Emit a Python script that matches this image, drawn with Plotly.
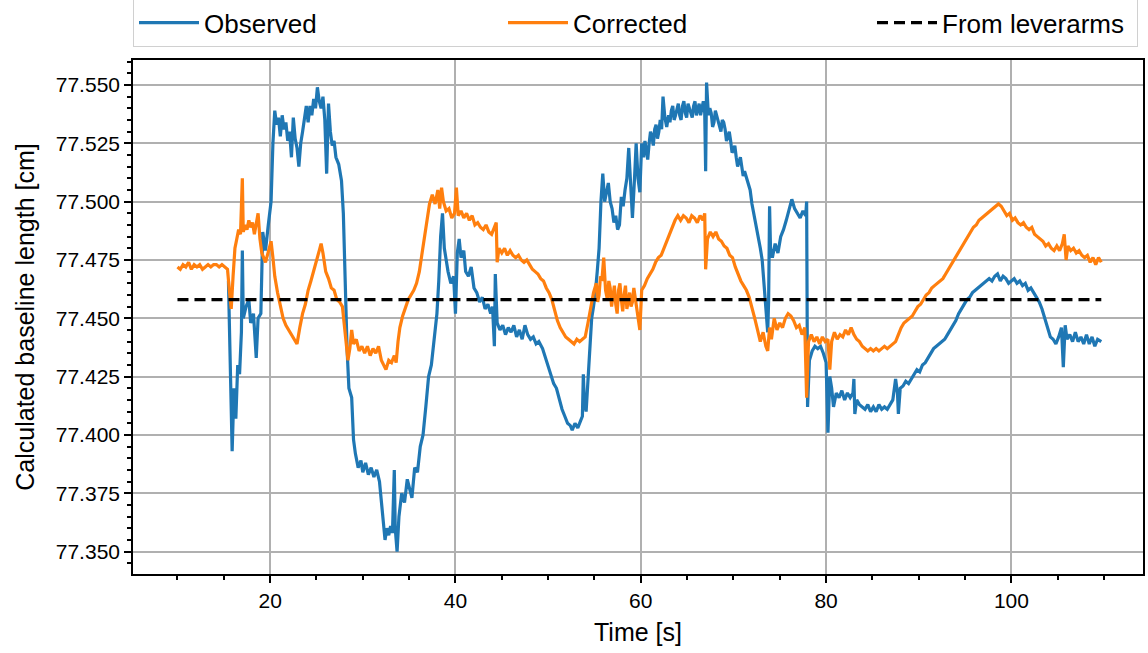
import plotly.graph_objects as go

# ---------------- data ----------------
t_obs = [15.5, 15.7, 15.9, 16.1, 16.3, 16.5, 16.7, 16.9, 17.0, 17.1, 17.4, 17.7, 17.9, 18.2, 18.5, 18.7, 19.0, 19.2, 19.5, 19.8,
         20.1, 20.3, 20.5, 20.7, 20.9, 21.1, 21.3, 21.5, 21.7, 21.9, 22.1, 22.3, 22.5, 22.7, 22.9, 23.1, 23.3, 23.5, 23.7, 23.9,
         24.1, 24.3, 24.5, 24.7, 24.9, 25.1, 25.3, 25.5, 25.7, 25.9, 26.1, 26.3, 26.5, 26.7, 26.9, 27.1, 27.4, 27.7, 27.9, 28.1,
         28.3, 28.5, 28.8, 29.0, 29.2, 29.5, 29.8, 30.0, 30.3, 30.6, 30.9, 31.2, 31.5, 31.8, 32.0, 32.2, 32.4, 32.6, 32.8, 33.0,
         33.2, 33.4, 33.5, 33.7, 33.9, 34.2, 34.5, 34.8, 35.0, 35.3, 35.6, 35.9, 36.2, 36.5, 36.8, 37.1, 37.4, 37.7, 38.0, 38.2,
         38.4, 38.6, 38.8, 39.0, 39.2, 39.5, 39.8, 40.0, 40.2, 40.4, 40.6, 40.9, 41.1, 41.4, 41.7, 42.0, 42.3, 42.6, 42.9, 43.2,
         43.5, 43.8, 44.0, 44.2, 44.3, 44.5, 44.8, 45.1, 45.4, 45.7, 46.0, 46.3, 46.6, 46.9, 47.2, 47.5, 47.8, 48.1, 48.4, 48.7,
         49.0, 49.4, 49.7, 50.0, 50.3, 50.6, 50.9, 51.2, 51.5, 51.8, 52.1, 52.4, 52.6, 52.9, 53.2, 53.5, 53.7, 53.8, 53.9, 54.1,
         54.3, 54.5, 54.7, 54.9, 55.1, 55.3, 55.5, 55.7, 55.9, 56.1, 56.3, 56.5, 56.7, 56.9, 57.1, 57.3, 57.5, 57.7, 57.9, 58.1,
         58.3, 58.5, 58.7, 58.9, 59.1, 59.3, 59.5, 59.7, 59.9, 60.1, 60.3, 60.45, 60.6, 60.75, 60.9, 61.05, 61.2, 61.35, 61.5, 61.65,
         61.8, 61.95, 62.1, 62.25, 62.4, 62.6, 62.8, 63.0, 63.15, 63.3, 63.45, 63.6, 63.75, 63.9, 64.05, 64.2, 64.35, 64.5, 64.65, 64.8,
         64.95, 65.1, 65.25, 65.4, 65.55, 65.7, 65.85, 66.0, 66.15, 66.3, 66.45, 66.6, 66.75, 66.9, 67.0, 67.1, 67.3, 67.45, 67.6, 67.75,
         67.9, 68.05, 68.2, 68.35, 68.5, 68.65, 68.8, 68.95, 69.1, 69.25, 69.4, 69.55, 69.7, 69.85, 70.0, 70.15, 70.3, 70.45, 70.6, 70.75,
         70.9, 71.05, 71.2, 71.5, 71.8, 72.0, 72.3, 72.6, 72.9, 73.1, 73.3, 73.5, 73.7,
         73.8, 73.9, 74.0, 74.2, 74.5, 74.8, 75.1, 75.4, 75.7, 76.0, 76.3, 76.6, 76.9, 77.2, 77.5, 77.8, 77.9, 78.0, 78.2, 78.5,
         78.8, 79.1, 79.4, 79.7, 80.0, 80.2, 80.4, 80.6, 80.8, 81.1, 81.4, 81.7, 82.0, 82.3, 82.6, 82.9, 83.0, 83.1, 83.3, 83.6,
         83.9, 84.2, 84.5, 84.8, 85.1, 85.4, 85.7, 86.0, 86.3, 86.6, 86.9, 87.2, 87.5, 87.7, 87.8, 88.0, 88.3, 88.6, 88.9, 89.2,
         89.5, 89.8, 90.1, 90.4, 90.7, 91.0, 91.3, 91.6, 91.9, 92.2, 92.5, 92.8, 93.1, 93.4, 93.7, 94.0, 94.3, 94.6, 94.9, 95.2,
         95.5, 95.8, 96.1, 96.4, 96.7, 97.0, 97.3, 97.6, 97.9, 98.2, 98.5, 98.8, 99.1, 99.4, 99.7, 100.0, 100.3, 100.6, 100.9, 101.2,
         101.5, 101.8, 102.1, 102.4, 102.7, 103.0, 103.3, 103.6, 103.9, 104.2, 104.5, 104.8, 105.1, 105.4, 105.6, 105.8, 106.0, 106.3, 106.6, 106.9,
         107.2, 107.5, 107.8, 108.1, 108.4, 108.7, 109.0, 109.3, 109.7]
observed = [77.466, 77.430, 77.393, 77.420, 77.407, 77.430, 77.426, 77.444, 77.479, 77.450, 77.455, 77.458, 77.448, 77.452, 77.433, 77.450, 77.452, 77.487, 77.479, 77.490,
            77.500, 77.525, 77.539, 77.533, 77.536, 77.528, 77.537, 77.531, 77.534, 77.526, 77.530, 77.519, 77.536, 77.527, 77.523, 77.515, 77.525, 77.530, 77.537, 77.541,
            77.534, 77.541, 77.537, 77.544, 77.540, 77.549, 77.543, 77.540, 77.545, 77.535, 77.512, 77.542, 77.530, 77.524, 77.526, 77.519, 77.516, 77.509, 77.495, 77.461,
            77.437, 77.420, 77.416, 77.398, 77.392, 77.386, 77.389, 77.384, 77.388, 77.383, 77.386, 77.382, 77.385, 77.380, 77.372, 77.362, 77.355, 77.360, 77.357, 77.361,
            77.358, 77.385, 77.360, 77.350, 77.365, 77.375, 77.371, 77.381, 77.378, 77.373, 77.386, 77.384, 77.395, 77.400, 77.412, 77.425, 77.430, 77.440, 77.452, 77.466,
            77.485, 77.495, 77.480, 77.475, 77.470, 77.465, 77.468, 77.452, 77.478, 77.484, 77.476, 77.479, 77.470, 77.468, 77.472, 77.463, 77.461, 77.457, 77.459, 77.454,
            77.456, 77.452, 77.455, 77.438, 77.469, 77.448, 77.445, 77.447, 77.443, 77.446, 77.444, 77.447, 77.442, 77.445, 77.441, 77.447, 77.443, 77.441, 77.442, 77.439,
            77.440, 77.437, 77.433, 77.429, 77.426, 77.422, 77.420, 77.415, 77.411, 77.408, 77.405, 77.404, 77.402, 77.405, 77.403, 77.406, 77.408, 77.426, 77.415, 77.410,
            77.425, 77.438, 77.450, 77.455, 77.461, 77.470, 77.480, 77.500, 77.512, 77.500, 77.504, 77.508, 77.500, 77.497, 77.491, 77.494, 77.488, 77.490, 77.502, 77.498,
            77.505, 77.510, 77.523, 77.504, 77.493, 77.508, 77.525, 77.510, 77.504, 77.525, 77.519, 77.526, 77.522, 77.518, 77.525, 77.530, 77.528, 77.524, 77.531, 77.533,
            77.527, 77.530, 77.535, 77.531, 77.545, 77.536, 77.532, 77.537, 77.534, 77.539, 77.541, 77.535, 77.537, 77.540, 77.542, 77.537, 77.535, 77.541, 77.543, 77.538,
            77.536, 77.542, 77.540, 77.539, 77.536, 77.541, 77.543, 77.537, 77.539, 77.542, 77.537, 77.540, 77.543, 77.538, 77.513, 77.551, 77.537, 77.540, 77.538, 77.532,
            77.534, 77.539, 77.537, 77.535, 77.533, 77.530, 77.535, 77.534, 77.531, 77.526, 77.528, 77.530, 77.526, 77.521, 77.522, 77.524, 77.519, 77.515, 77.517, 77.519,
            77.515, 77.511, 77.513, 77.509, 77.505, 77.499, 77.493, 77.487, 77.480, 77.475, 77.465, 77.452, 77.444,
            77.458, 77.498, 77.480, 77.476, 77.482, 77.478, 77.485, 77.488, 77.492, 77.496, 77.501, 77.497, 77.495, 77.493, 77.496, 77.494, 77.500, 77.412, 77.432, 77.436,
            77.438, 77.437, 77.438, 77.435, 77.431, 77.401, 77.425, 77.420, 77.412, 77.418, 77.416, 77.419, 77.415, 77.418, 77.416, 77.418, 77.424, 77.409, 77.415, 77.413,
            77.412, 77.411, 77.413, 77.410, 77.412, 77.410, 77.413, 77.411, 77.412, 77.411, 77.413, 77.415, 77.424, 77.418, 77.409, 77.420, 77.421, 77.423, 77.422, 77.424,
            77.426, 77.428, 77.427, 77.430, 77.431, 77.433, 77.435, 77.437, 77.438, 77.439, 77.440, 77.441, 77.443, 77.445, 77.447, 77.449, 77.452, 77.454, 77.456, 77.458,
            77.459, 77.461, 77.462, 77.463, 77.464, 77.465, 77.466, 77.467, 77.466, 77.468, 77.469, 77.466, 77.468, 77.467, 77.465, 77.466, 77.467, 77.465, 77.466, 77.464,
            77.465, 77.462, 77.463, 77.461, 77.459, 77.457, 77.454, 77.450, 77.446, 77.442, 77.441, 77.439, 77.442, 77.446, 77.429, 77.447, 77.441, 77.443, 77.440, 77.444,
            77.440, 77.442, 77.439, 77.443, 77.439, 77.442, 77.438, 77.441, 77.440]

t_cor = [10.0, 10.3, 10.6, 10.9, 11.2, 11.5, 11.8, 12.1, 12.4, 12.7, 13.0, 13.3, 13.6, 13.9, 14.2, 14.5, 14.8, 15.1, 15.4, 15.6,
         15.8, 16.0, 16.2, 16.4, 16.6, 16.8, 17.0, 17.1, 17.3, 17.5, 17.7, 17.9, 18.1, 18.3, 18.5, 18.7, 18.9, 19.1, 19.3, 19.5,
         19.7, 19.9, 20.1, 20.3, 20.5, 20.8, 21.1, 21.4, 21.7, 22.0, 22.3, 22.6, 22.9, 23.2, 23.5, 23.8, 24.1, 24.4, 24.7, 25.0,
         25.3, 25.5, 25.7, 26.0, 26.3, 26.6, 26.9, 27.2, 27.5, 27.8, 28.0, 28.2, 28.4, 28.6, 28.8, 29.0, 29.3, 29.6, 29.9, 30.2,
         30.5, 30.8, 31.1, 31.4, 31.7, 32.0, 32.3, 32.5, 32.8, 33.1, 33.4, 33.6, 33.8, 34.0, 34.3, 34.6, 34.9, 35.2, 35.5, 35.8,
         36.1, 36.4, 36.7, 37.0, 37.2, 37.5, 37.8, 38.1, 38.3, 38.5, 38.7, 39.0, 39.3, 39.6, 39.9, 40.1, 40.3, 40.6, 40.9, 41.2,
         41.5, 41.8, 42.1, 42.4, 42.7, 43.0, 43.3, 43.6, 43.9, 44.2, 44.4, 44.5, 44.7, 45.0, 45.3, 45.6, 45.9, 46.2, 46.5, 46.8,
         47.1, 47.4, 47.7, 48.0, 48.3, 48.6, 48.9, 49.2, 49.5, 49.8, 50.1, 50.4, 50.7, 51.0, 51.3, 51.6, 51.9, 52.2, 52.5, 52.8,
         53.1, 53.4, 53.7, 54.0, 54.3, 54.6, 54.9, 55.2, 55.35, 55.5, 55.65, 55.8, 56.0, 56.2, 56.4, 56.55, 56.7, 56.85, 57.0, 57.15,
         57.3, 57.45, 57.6, 57.75, 57.9, 58.05, 58.2, 58.35, 58.5, 58.65, 58.8, 58.95, 59.1, 59.25, 59.4, 59.55, 59.7, 59.9,
         60.1, 60.4, 60.7, 61.0, 61.3, 61.6, 61.9, 62.2, 62.5, 62.8, 63.1, 63.4, 63.7, 64.0, 64.3,
         64.6, 64.9, 65.2, 65.5, 65.8, 66.1, 66.4, 66.7, 66.9, 67.0, 67.2, 67.5, 67.8, 68.1, 68.4, 68.7, 69.0, 69.3, 69.6, 69.9,
         70.2, 70.5, 70.8, 71.1, 71.4, 71.7, 72.0, 72.3, 72.6, 72.9, 73.2, 73.5, 73.7, 73.9, 74.1, 74.4, 74.7, 75.0, 75.3, 75.6,
         75.9, 76.2, 76.5, 76.8, 77.1, 77.4, 77.7, 77.9, 78.1, 78.4, 78.7, 79.0, 79.3, 79.6, 79.9, 80.2, 80.4, 80.6, 80.9, 81.2,
         81.5, 81.8, 82.1, 82.4, 82.7, 83.0, 83.3, 83.6, 83.9, 84.2, 84.5, 84.8, 85.1, 85.4, 85.7, 86.0, 86.3, 86.6, 86.9, 87.2,
         87.5, 87.8, 88.1, 88.4, 88.7, 89.0, 89.3, 89.6, 89.9, 90.2, 90.5, 90.8, 91.1, 91.4, 91.7, 92.0, 92.3, 92.6, 92.9, 93.2,
         93.5, 93.8, 94.1, 94.4, 94.7, 95.0, 95.3, 95.6, 95.9, 96.2, 96.5, 96.8, 97.1, 97.4, 97.7, 98.0, 98.3, 98.6, 98.9, 99.2,
         99.5, 99.8, 100.1, 100.4, 100.7, 101.0, 101.3, 101.6, 101.9, 102.2, 102.5, 102.8, 103.1, 103.4, 103.7, 104.0, 104.3, 104.6, 104.9, 105.2,
         105.5, 105.7, 105.9, 106.1, 106.4, 106.7, 107.0, 107.3, 107.6, 107.9, 108.2, 108.5, 108.8, 109.1, 109.4, 109.7]
corrected = [77.472, 77.471, 77.473, 77.472, 77.474, 77.471, 77.473, 77.472, 77.473, 77.471, 77.472, 77.473, 77.472, 77.473, 77.473, 77.472, 77.473, 77.472, 77.471, 77.462,
             77.454, 77.468, 77.480, 77.484, 77.488, 77.486, 77.510, 77.487, 77.490, 77.488, 77.492, 77.489, 77.491, 77.486, 77.490, 77.495, 77.484, 77.478, 77.476, 77.474,
             77.477, 77.480, 77.483, 77.476, 77.468, 77.461, 77.455, 77.450, 77.447, 77.445, 77.443, 77.441, 77.439, 77.446, 77.452, 77.456, 77.462, 77.466, 77.470, 77.474,
             77.479, 77.482, 77.478, 77.470, 77.467, 77.463, 77.462, 77.458, 77.457, 77.455, 77.448, 77.440, 77.432, 77.437, 77.445, 77.439, 77.441, 77.436, 77.438, 77.435,
             77.438, 77.434, 77.437, 77.435, 77.438, 77.432, 77.430, 77.428, 77.432, 77.431, 77.434, 77.431, 77.440, 77.446, 77.451, 77.455, 77.458, 77.460, 77.462, 77.465,
             77.470, 77.478, 77.486, 77.494, 77.499, 77.503, 77.499, 77.505, 77.497, 77.506, 77.500, 77.496, 77.497, 77.493, 77.495, 77.506, 77.494, 77.496, 77.493, 77.495,
             77.492, 77.494, 77.490, 77.491, 77.489, 77.488, 77.490, 77.487, 77.486, 77.489, 77.491, 77.474, 77.480, 77.478, 77.480, 77.477, 77.479, 77.477, 77.476, 77.477,
             77.475, 77.474, 77.475, 77.473, 77.471, 77.470, 77.469, 77.467, 77.466, 77.463, 77.461, 77.458, 77.453, 77.449, 77.446, 77.444, 77.442, 77.441, 77.440, 77.439,
             77.441, 77.440, 77.441, 77.442, 77.448, 77.455, 77.461, 77.465, 77.457, 77.460, 77.468, 77.466, 77.476, 77.462, 77.458, 77.466, 77.463, 77.455, 77.459, 77.464,
             77.456, 77.452, 77.462, 77.465, 77.458, 77.453, 77.460, 77.464, 77.454, 77.457, 77.461, 77.455, 77.457, 77.463, 77.459, 77.455, 77.452, 77.445,
             77.462, 77.464, 77.467, 77.469, 77.471, 77.474, 77.476, 77.477, 77.480, 77.483, 77.486, 77.489, 77.492, 77.494, 77.492,
             77.494, 77.493, 77.491, 77.494, 77.493, 77.491, 77.494, 77.492, 77.495, 77.471, 77.484, 77.487, 77.485, 77.487, 77.484, 77.483, 77.481, 77.480, 77.477, 77.476,
             77.472, 77.469, 77.466, 77.464, 77.462, 77.459, 77.455, 77.450, 77.445, 77.440, 77.444, 77.438, 77.436, 77.446, 77.441, 77.450, 77.445, 77.448, 77.446, 77.450,
             77.452, 77.451, 77.449, 77.446, 77.447, 77.443, 77.446, 77.416, 77.440, 77.443, 77.440, 77.442, 77.439, 77.442, 77.440, 77.441, 77.428, 77.440, 77.444, 77.441,
             77.443, 77.442, 77.445, 77.443, 77.446, 77.443, 77.441, 77.440, 77.438, 77.437, 77.436, 77.437, 77.436, 77.437, 77.436, 77.437, 77.438, 77.437, 77.438, 77.439,
             77.440, 77.443, 77.446, 77.448, 77.449, 77.450, 77.451, 77.453, 77.455, 77.456, 77.458, 77.460, 77.461, 77.463, 77.464, 77.465, 77.466, 77.467, 77.469, 77.471,
             77.473, 77.475, 77.477, 77.479, 77.481, 77.483, 77.485, 77.487, 77.489, 77.490, 77.492, 77.493, 77.494, 77.495, 77.496, 77.497, 77.498, 77.499, 77.498, 77.496,
             77.494, 77.495, 77.492, 77.493, 77.491, 77.490, 77.491, 77.489, 77.488, 77.489, 77.486, 77.485, 77.484, 77.483, 77.481, 77.482, 77.480, 77.479, 77.481, 77.479,
             77.482, 77.486, 77.475, 77.481, 77.479, 77.480, 77.478, 77.479, 77.477, 77.476, 77.477, 77.474, 77.476, 77.473, 77.476, 77.474]

t_lever = [10.0, 109.7]
lever = [77.458, 77.458]

assert len(t_obs) == len(observed) and len(t_cor) == len(corrected)

series_names = ["Observed", "Corrected", "From leverarms"]
x_ticks = [20, 40, 60, 80, 100]
y_ticks = [77.350, 77.375, 77.400, 77.425, 77.450, 77.475, 77.500, 77.525, 77.550]

# ---------------- figure ----------------
FONT = "Liberation Sans, Arial, Helvetica, sans-serif"
fig = go.Figure()
fig.add_trace(go.Scatter(x=t_obs, y=observed, mode="lines", name=series_names[0],
                         line=dict(color="#1f77b4", width=3.2), legendwidth=294))
fig.add_trace(go.Scatter(x=t_cor, y=corrected, mode="lines", name=series_names[1],
                         line=dict(color="#ff7f0e", width=3.2), legendwidth=294))
fig.add_trace(go.Scatter(x=t_lever, y=lever, mode="lines", name=series_names[2],
                         line=dict(color="black", width=3.2, dash="11px,6px"), legendwidth=190))

axis_common = dict(showline=True, linecolor="black", linewidth=1.6, mirror=True,
                   showgrid=True, gridcolor="#b0b0b0", gridwidth=1.6,
                   ticks="outside", ticklen=7, tickwidth=1.6, tickcolor="black",
                   zeroline=False, tickfont=dict(family=FONT, size=21, color="black"))

fig.update_layout(
    width=1148, height=653,
    margin=dict(l=133, r=5, t=60, b=79, autoexpand=False),
    paper_bgcolor="white", plot_bgcolor="white",
    font=dict(family=FONT, color="black"),
    showlegend=True,
    legend=dict(orientation="h", x=0, xanchor="left", y=1.025, yanchor="bottom",
                bgcolor="white", bordercolor="#d0d0d0", borderwidth=1,
                font=dict(family=FONT, size=26, color="black"),
                itemwidth=60, traceorder="normal"),
    xaxis=dict(axis_common, range=[5.2, 114.2], tickvals=x_ticks,
               minor=dict(dtick=5, tick0=0, ticks="outside", ticklen=4, tickwidth=1.6,
                          tickcolor="black", showgrid=False),
               title=dict(text="Time [s]", font=dict(family=FONT, size=25), standoff=12)),
    yaxis=dict(axis_common, range=[77.3404, 77.5607], tickvals=y_ticks, tickformat=".3f",
               minor=dict(dtick=0.005, tick0=77.35, ticks="outside", ticklen=4, tickwidth=1.6,
                          tickcolor="black", showgrid=False),
               title=dict(text="Calculated baseline length [cm]", font=dict(family=FONT, size=25), standoff=14)),
)

fig.write_html("out.html")
